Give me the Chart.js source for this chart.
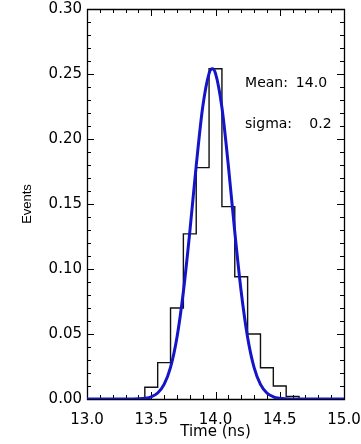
<!DOCTYPE html>
<html>
<head>
<meta charset="utf-8">
<script src="https://cdn.jsdelivr.net/npm/chart.js@4"></script>
<style>
  html, body { margin: 0; padding: 0; background: #ffffff; }
  #wrap { width: 361px; height: 444px; }
</style>
</head>
<body>
<div id="wrap"><canvas id="c" width="361" height="444"></canvas></div>
<script>
// Histogram bin edges (ns) and bin heights
const binEdges = [13.45, 13.55, 13.65, 13.75, 13.85, 13.95, 14.05, 14.15, 14.25, 14.35, 14.45, 14.55, 14.65];
const binValues = [0.009, 0.028, 0.070, 0.127, 0.178, 0.254, 0.148, 0.094, 0.050, 0.024, 0.010, 0.002];

// Fitted curve
const fitX = [13.0, 13.25, 13.30, 13.35, 13.40, 13.45, 13.50, 13.55, 13.60, 13.65, 13.70, 13.75, 13.80, 13.85, 13.90, 13.95, 13.975, 14.00, 14.05, 14.10, 14.15, 14.20, 14.25, 14.30, 14.35, 14.40, 14.45, 14.50, 14.55, 14.60, 14.65, 14.70, 15.0];
const fitY = [0, 0, 0.00001, 0.00004, 0.00016, 0.00056, 0.0017, 0.0046, 0.0112, 0.0243, 0.0473, 0.0825, 0.1286, 0.1795, 0.2242, 0.2505, 0.254, 0.2505, 0.2242, 0.1795, 0.1286, 0.0825, 0.0473, 0.0243, 0.0112, 0.0046, 0.0017, 0.00056, 0.00016, 0.00004, 0.00001, 0, 0];

// Axis ticks
const xTickValues = [13.0, 13.5, 14.0, 14.5, 15.0];
const xTickLabels = ['13.0', '13.5', '14.0', '14.5', '15.0'];
const yTickValues = [0, 0.05, 0.10, 0.15, 0.20, 0.25, 0.30];
const yTickLabels = ['0.00', '0.05', '0.10', '0.15', '0.20', '0.25', '0.30'];

// Annotation
const statLabels = ['Mean:', 'sigma:'];
const statValues = ['14.0', '0.2'];

const xMin = 13.0, xMax = 15.0, yMin = 0, yMax = 0.30;
const xMinorStep = 0.1, yMinorStep = 0.01;

// Build datasets
const histPoints = [{x: xMin, y: 0}];
for (let i = 0; i < binValues.length; i++) histPoints.push({x: binEdges[i], y: binValues[i]});
histPoints.push({x: binEdges[binEdges.length - 1], y: 0});
histPoints.push({x: xMax, y: 0});

const fitPoints = fitX.map((x, i) => ({x: x, y: fitY[i]}));

function noPad(s) { s.paddingLeft = 0; s.paddingRight = 0; s.paddingTop = 0; s.paddingBottom = 0; }

const frame = {
  id: 'frame',
  beforeDatasetsDraw(chart) {
    const {ctx, chartArea: a, scales: {x, y}} = chart;
    ctx.save();
    ctx.strokeStyle = '#000';
    ctx.lineWidth = 1.3;
    ctx.beginPath();
    ctx.rect(a.left + 0.5, a.top + 0.5, a.right - a.left, a.bottom - a.top);
    ctx.stroke();
    ctx.lineWidth = 1;
    ctx.beginPath();
    const nx = Math.round((xMax - xMin) / xMinorStep);
    for (let k = 1; k < nx; k++) {
      const v = xMin + k * xMinorStep;
      const major = xTickValues.some(t => Math.abs(t - v) < 1e-6);
      const L = major ? 7 : 4;
      const px = Math.round(x.getPixelForValue(v)) + 0.5;
      ctx.moveTo(px, a.bottom); ctx.lineTo(px, a.bottom - L);
      ctx.moveTo(px, a.top); ctx.lineTo(px, a.top + L);
    }
    const ny = Math.round((yMax - yMin) / yMinorStep);
    for (let k = 1; k < ny; k++) {
      const v = yMin + k * yMinorStep;
      const major = yTickValues.some(t => Math.abs(t - v) < 1e-6);
      const L = major ? 7 : 4;
      const py = Math.round(y.getPixelForValue(v)) + 0.5;
      ctx.moveTo(a.left, py); ctx.lineTo(a.left + L, py);
      ctx.moveTo(a.right, py); ctx.lineTo(a.right - L, py);
    }
    ctx.stroke();
    ctx.restore();
  },
  afterDatasetsDraw(chart) {
    const {ctx, scales: {x, y}} = chart;
    ctx.save();
    ctx.fillStyle = '#000';
    ctx.font = '14px "DejaVu Sans"';
    ctx.textBaseline = 'middle';
    const rows = [0.243, 0.2115];
    const valRight = [14.868, 14.903];
    for (let i = 0; i < statLabels.length; i++) {
      ctx.textAlign = 'left';
      ctx.fillText(statLabels[i], x.getPixelForValue(14.23), y.getPixelForValue(rows[i]));
      ctx.textAlign = 'right';
      ctx.fillText(statValues[i], x.getPixelForValue(valRight[i]), y.getPixelForValue(rows[i]));
    }
    ctx.restore();
  }
};

new Chart(document.getElementById('c'), {
  type: 'line',
  data: {
    datasets: [
      {
        data: fitPoints,
        borderColor: '#1414c8',
        borderWidth: 3,
        pointRadius: 0,
        cubicInterpolationMode: 'monotone',
        fill: false
      },
      {
        data: histPoints,
        borderColor: '#111111',
        borderWidth: 1.4,
        pointRadius: 0,
        stepped: true,
        fill: false
      }
    ]
  },
  options: {
    responsive: false,
    devicePixelRatio: 1,
    animation: false,
    events: [],
    layout: { autoPadding: false, padding: { left: 0, right: 17, top: 9, bottom: 0 } },
    plugins: { legend: { display: false }, tooltip: { enabled: false } },
    scales: {
      x: {
        type: 'linear',
        min: xMin, max: xMax,
        afterBuildTicks: s => { s.ticks = xTickValues.map(v => ({value: v})); },
        afterFit: s => { s.height = 45; noPad(s); },
        grid: { display: false, drawTicks: false },
        border: { display: false },
        ticks: {
          autoSkip: false, maxRotation: 0,
          padding: 12,
          color: '#000',
          font: { family: 'DejaVu Sans', size: 15 },
          callback: (v, i) => xTickLabels[i]
        },
        title: {
          display: true, text: 'Time (ns)', color: '#000',
          font: { family: 'DejaVu Sans', size: 15 },
          padding: { top: 0, bottom: 3 }
        }
      },
      y: {
        type: 'linear',
        min: yMin, max: yMax,
        afterBuildTicks: s => { s.ticks = yTickValues.map(v => ({value: v})); },
        afterFit: s => { s.width = 87; noPad(s); },
        grid: { display: false, drawTicks: false },
        border: { display: false },
        ticks: {
          autoSkip: false,
          padding: 5,
          color: '#000',
          font: { family: 'DejaVu Sans', size: 15 },
          callback: (v, i) => yTickLabels[i]
        },
        title: {
          display: true, text: 'Events', color: '#000',
          font: { family: 'Liberation Sans', size: 13 },
          padding: { top: 20, bottom: 0 }
        }
      }
    }
  },
  plugins: [frame]
});
</script>
</body>
</html>
